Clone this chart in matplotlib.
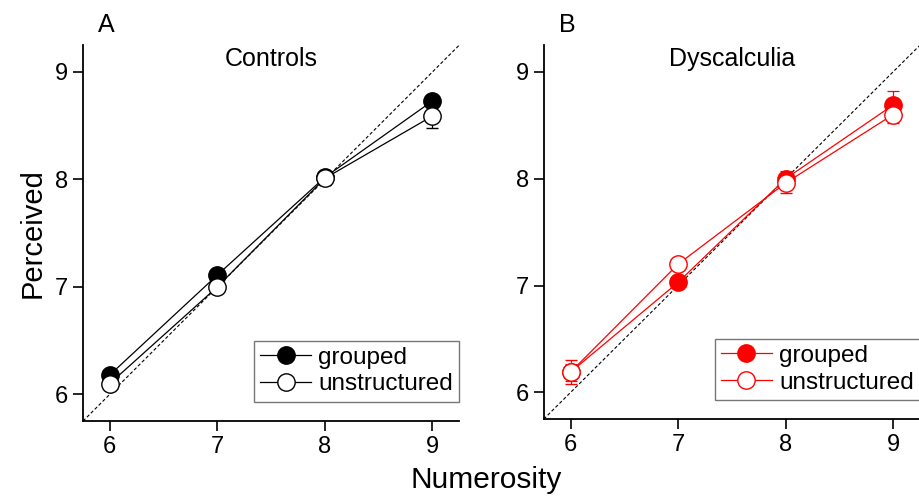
import numpy as np
import matplotlib
matplotlib.use('Agg')
from matplotlib import pyplot as plt

plt.rcParams['font.family'] = ['Liberation Sans', 'DejaVu Sans']

numerosity = [6, 7, 8, 9]

ctrl_grouped = [6.18, 7.11, 8.02, 8.73]
ctrl_grouped_err = [0.04, 0.05, 0.04, 0.06]
ctrl_unstr = [6.10, 7.00, 8.01, 8.59]
ctrl_unstr_err = [0.06, 0.04, 0.06, 0.11]

dys_grouped = [6.19, 7.03, 8.00, 8.69]
dys_grouped_err = [0.08, 0.05, 0.07, 0.13]
dys_unstr = [6.19, 7.20, 7.96, 8.60]
dys_unstr_err = [0.11, 0.05, 0.09, 0.08]

panels = ["A", "B"]
titles = ["Controls", "Dyscalculia"]
colors = ["black", "red"]

fig = plt.figure(figsize=(9.2, 4.96), dpi=100)
ax1 = fig.add_axes([0.0902, 0.151, 0.409, 0.758])
ax2 = fig.add_axes([0.591, 0.155, 0.409, 0.754])

data = [(ctrl_grouped, ctrl_grouped_err, ctrl_unstr, ctrl_unstr_err),
        (dys_grouped, dys_grouped_err, dys_unstr, dys_unstr_err)]

for ax, d, col, lab, title in zip([ax1, ax2], data, colors, panels, titles):
    g, ge, u, ue = d
    ax.plot([5.75, 9.25], [5.75, 9.25], color='black', lw=0.8,
            linestyle=(0, (3, 2)), zorder=1)
    eb1 = ax.errorbar(numerosity, g, yerr=ge, color=col, lw=0.9, marker='o',
                      markersize=12.5, mfc=col, mec=col, capsize=4, elinewidth=0.9,
                      capthick=0.9, label='grouped', zorder=3)
    eb2 = ax.errorbar(numerosity, u, yerr=ue, color=col, lw=0.9, marker='o',
                      markersize=12.5, mfc='white', mec=col, mew=1.0, capsize=4,
                      elinewidth=0.9, capthick=0.9, label='unstructured', zorder=4)
    ax.set_xlim(5.75, 9.25)
    ax.set_ylim(5.75, 9.25)
    ax.set_xticks(numerosity)
    ax.set_yticks(numerosity)
    ax.spines['top'].set_visible(False)
    ax.spines['right'].set_visible(False)
    ax.spines['left'].set_linewidth(1.3)
    ax.spines['bottom'].set_linewidth(1.3)
    ax.tick_params(labelsize=17, length=7, width=1.2, direction='out')
    ax.text(0.5, 0.962, title, transform=ax.transAxes, ha='center',
            va='center', fontsize=18)
    ax.text(0.04, 1.053, lab, transform=ax.transAxes, ha='left',
            va='center', fontsize=18)
    leg = ax.legend(handles=[eb1[0], eb2[0]], labels=['grouped', 'unstructured'],
                    loc='lower right', bbox_to_anchor=(1.0, 0.052),
                    fontsize=17.5, frameon=True, fancybox=False,
                    borderpad=0.25, handlelength=2.1, handletextpad=0.3,
                    labelspacing=0.2, borderaxespad=0.0)
    leg.get_frame().set_edgecolor('#555555')
    leg.get_frame().set_linewidth(1.0)

ax1.set_ylabel("Perceived", fontsize=21, labelpad=6)
fig.text(0.529, 0.032, "Numerosity", ha='center', va='center', fontsize=21.5)

plt.savefig('out.png', dpi=100)
